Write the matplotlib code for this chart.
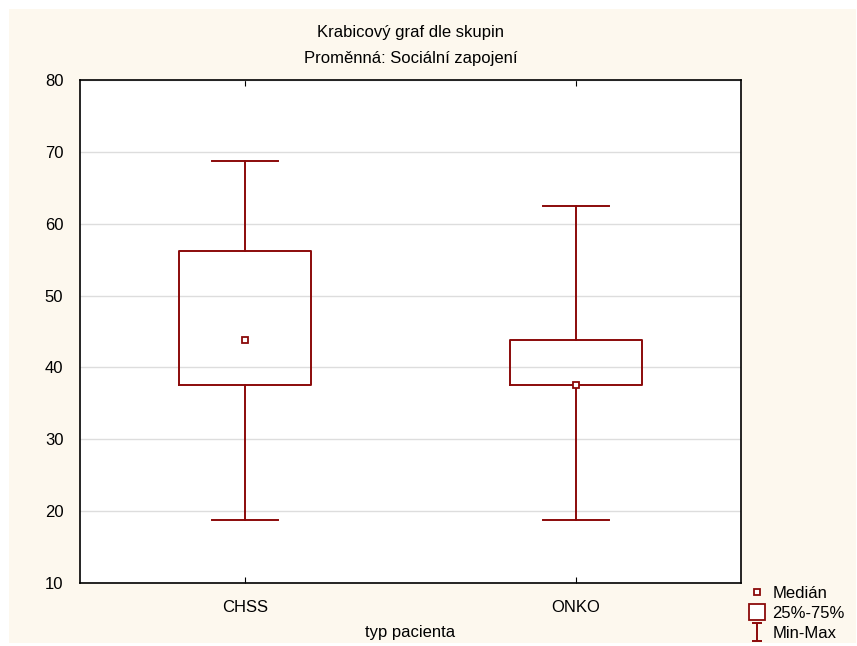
import matplotlib
matplotlib.use('Agg')
import matplotlib.pyplot as plt
from matplotlib.lines import Line2D
from matplotlib.patches import Rectangle
from matplotlib.path import Path

plt.rcParams['font.family'] = ['Liberation Sans', 'DejaVu Sans']

# data
groups = ['CHSS', 'ONKO']
mins = [18.75, 18.75]
q1s = [37.5, 37.5]
medians = [43.75, 37.5]
q3s = [56.25, 43.75]
maxs = [68.75, 62.5]

RED = '#8b0a0a'
CREAM = '#fdf8ee'
FS = 12

fig = plt.figure(figsize=(8.57, 6.46), dpi=100)
fig.patches.append(Rectangle((9 / 857, 3 / 646), 847 / 857, 634 / 646,
                             transform=fig.transFigure, facecolor=CREAM,
                             edgecolor='none', zorder=-10))

ax = fig.add_axes([80 / 857, 63 / 646, 661 / 857, 503 / 646])
ax.set_facecolor('white')

stats = []
for g, lo, a, m, b, hi in zip(groups, mins, q1s, medians, q3s, maxs):
    stats.append({'label': g, 'whislo': lo, 'q1': a, 'med': m, 'q3': b, 'whishi': hi})

pos = list(range(len(groups)))
ax.bxp(stats, positions=pos, widths=0.4, showfliers=False,
       boxprops=dict(color=RED, linewidth=1.4),
       whiskerprops=dict(color=RED, linewidth=1.4),
       capprops=dict(color=RED, linewidth=1.4),
       medianprops=dict(visible=False),
       capwidths=0.2, zorder=3)
ax.plot(pos, medians, 's', ms=5, mfc='white', mec=RED, mew=1.3, ls='none', zorder=4)

ax.set_xlim(-0.5, 1.5)
ax.set_ylim(10, 80)
ax.set_yticks(range(10, 81, 10))
ax.set_xticks(pos)
ax.set_xticklabels(groups)
ax.yaxis.grid(True, color='#dddddd', linewidth=1)
ax.set_axisbelow(True)
ax.tick_params(direction='in', top=True, right=False, labelsize=FS, length=4)
ax.tick_params(axis='x', pad=12)
ax.tick_params(axis='y', length=0, pad=12)
for s in ax.spines.values():
    s.set_linewidth(1.2)
    s.set_color('black')

fig.text(410.5 / 857, 1 - 33 / 646, 'Krabicový graf dle skupin', fontsize=FS,
         ha='center', va='center')
fig.text(410.5 / 857, 1 - 59 / 646, 'Proměnná: Sociální zapojení', fontsize=FS,
         ha='center', va='center')
fig.text(410.5 / 857, 1 - 633 / 646, 'typ pacienta', fontsize=FS,
         ha='center', va='center')

# legend
I_path = Path([(-0.5, 1), (0.5, 1), (0, 1), (0, -1), (-0.5, -1), (0.5, -1)],
              [Path.MOVETO, Path.LINETO, Path.MOVETO, Path.LINETO, Path.MOVETO, Path.LINETO])
handles = [
    Line2D([], [], marker='s', ms=5, mfc='white', mec=RED, mew=1.3, ls='none'),
    Line2D([], [], marker='s', ms=11, mfc='white', mec=RED, mew=1.3, ls='none'),
    Line2D([], [], marker=I_path, ms=13, mec=RED, mew=1.4, ls='none'),
]
fig.legend(handles, ['Medián', '25%-75%', 'Min-Max'], loc='lower left',
           bbox_to_anchor=(750 / 857, 5 / 646), frameon=False, fontsize=FS,
           handlelength=0.8, handletextpad=0.55, labelspacing=0.3, borderaxespad=0,
           borderpad=0)

fig.savefig('out.png', dpi=100, facecolor='white')
